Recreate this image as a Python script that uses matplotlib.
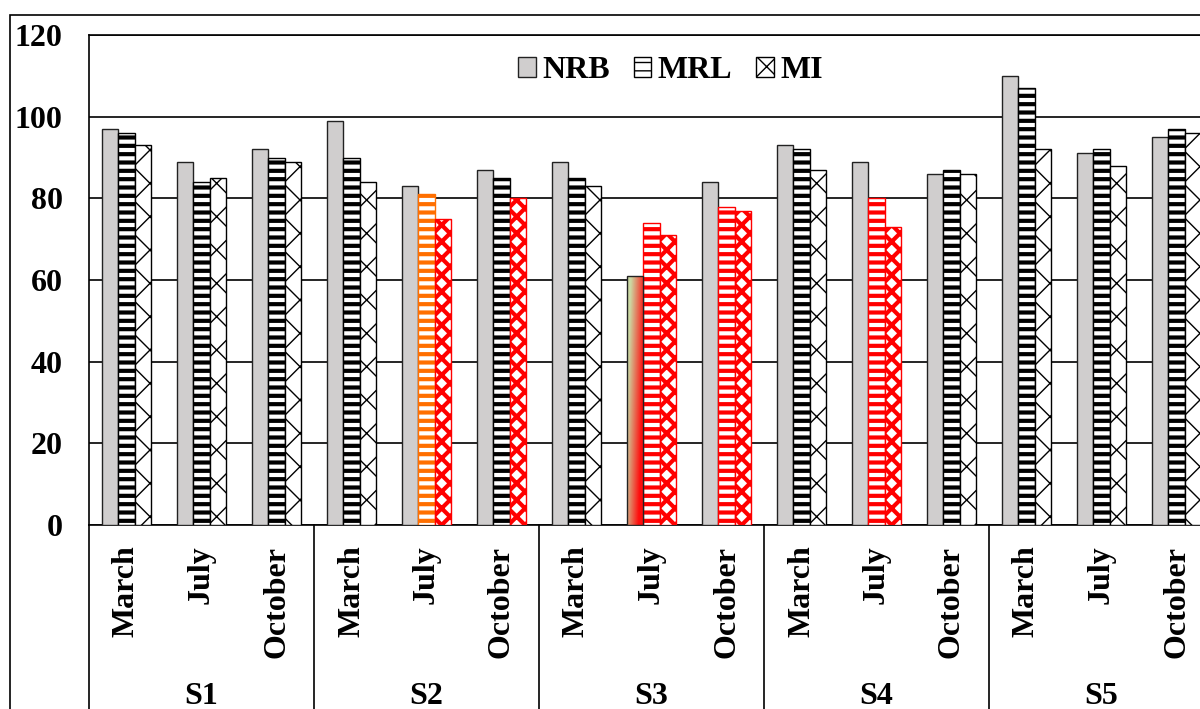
import numpy as np
import matplotlib.pyplot as plt
from matplotlib.patches import Rectangle
from matplotlib.lines import Line2D
import matplotlib.transforms as mtransforms

#%% Data

sites = ['S1', 'S2', 'S3', 'S4', 'S5']
months = ['March', 'July', 'October']
series = ['NRB', 'MRL', 'MI']

nrb = [97, 89, 92, 99, 83, 87, 89, 61, 84, 93, 89, 86, 110, 91, 95]
mrl = [96, 84, 90, 90, 81, 85, 85, 74, 78, 92, 80, 87, 107, 92, 97]
mi = [93, 85, 89, 84, 75, 80, 83, 71, 77, 87, 73, 86, 92, 88, 96]

yticks = [0, 20, 40, 60, 80, 100, 120]

#%% Styles

plt.rcParams['font.family'] = ['Liberation Serif', 'DejaVu Serif']
plt.rcParams['font.weight'] = 'bold'
fs = 23

gray = '#D0CECE'
red = '#FF0000'
orange = '#FF6F00'

mrl_colors = ['black'] * 15
mrl_colors[4] = orange
for i in (7, 8, 10):
    mrl_colors[i] = red
mi_colors = ['black'] * 15
for i in (4, 5, 7, 8, 10):
    mi_colors[i] = red

fig = plt.figure(figsize=(12, 7.09), dpi=100)
ax = fig.add_axes([89 / 1200, 1 - 525 / 709, 1125 / 1200, 490 / 709])

x = np.arange(len(nrb))
w = 0.222

b_nrb = ax.bar(x - w, nrb, w, color=gray, edgecolor='#222222', linewidth=1.0,
               label=series[0], zorder=3)

plt.rcParams['hatch.linewidth'] = 3.0
b_mrl = ax.bar(x, mrl, w, color='white', edgecolor=mrl_colors, linewidth=1.0,
               hatch='--', label=series[1], zorder=3)
for p in b_mrl:
    if hasattr(p, 'set_hatch_linewidth'):
        p.set_hatch_linewidth(3.0)

plt.rcParams['hatch.linewidth'] = 1.0
b_mi = ax.bar(x + w, mi, w, color='white', edgecolor=mi_colors, linewidth=1.0,
              hatch='x', label=series[2], zorder=3)
for i, p in enumerate(b_mi):
    if mi_colors[i] == red:
        p.set_hatch('xx')
        if hasattr(p, 'set_hatch_linewidth'):
            p.set_hatch_linewidth(3.0)
    elif hasattr(p, 'set_hatch_linewidth'):
        p.set_hatch_linewidth(1.0)

# gradient fill for the one odd NRB bar
gb = b_nrb[7]
gb.set_facecolor('none')
gb.set_zorder(3.6)
gx = np.linspace(0, 1, 40)
gy = np.linspace(0, 1, 120)
GX, GY = np.meshgrid(gx, gy)
t = np.clip(1.1 * GX + 0.5 * GY - 0.25, 0, 1)
c0 = np.array([0.80, 0.85, 0.64])
c1 = np.array([1.0, 0.05, 0.05])
img = c0[None, None, :] * (1 - t[..., None]) + c1[None, None, :] * t[..., None]
im = ax.imshow(img, extent=[gb.get_x(), gb.get_x() + gb.get_width(), 0, gb.get_height()],
               origin='upper', aspect='auto', zorder=3.5)
im.set_clip_path(gb)

ax.set_xlim(-0.5, len(nrb) - 0.5)
ax.set_ylim(0, 120)
ax.set_yticks(yticks)
ax.tick_params(axis='y', length=0, pad=19, labelsize=fs)
for lab in ax.get_yticklabels():
    lab.set_fontweight('bold')
ax.set_xticks([])
ax.grid(axis='y', color='black', linewidth=1.2, zorder=0)
for s in ['left', 'top', 'bottom']:
    ax.spines[s].set_linewidth(1.2)
ax.spines['right'].set_visible(False)

# category labels
trans = mtransforms.blended_transform_factory(ax.transData, ax.transAxes)
for i in range(len(nrb)):
    ax.text(x[i], -0.042, months[i % 3], transform=trans, rotation=90,
            ha='center', va='top', fontsize=fs, fontweight='bold')
for j, s in enumerate(sites):
    ax.text(3 * j + 1, -0.35, s, transform=trans, ha='center', va='center',
            fontsize=fs, fontweight='bold')
for j in range(len(sites) + 1):
    ax.add_line(Line2D([3 * j - 0.5, 3 * j - 0.5], [0, -0.45], transform=trans,
                       color='black', linewidth=1.2, clip_on=False))

leg = ax.legend(loc='upper center', bbox_to_anchor=(0.517, 1.015), ncol=3,
                frameon=False, handlelength=0.55, handleheight=0.55,
                handletextpad=0.2, columnspacing=0.75,
                prop={'weight': 'bold', 'size': fs})

# outer chart border
fig.patches.append(Rectangle((10 / 1200, -0.1), 1.2, 1 - 15 / 709 + 0.1,
                             transform=fig.transFigure, fill=False,
                             edgecolor='black', linewidth=1.2))

fig.savefig('out.png', dpi=100)
